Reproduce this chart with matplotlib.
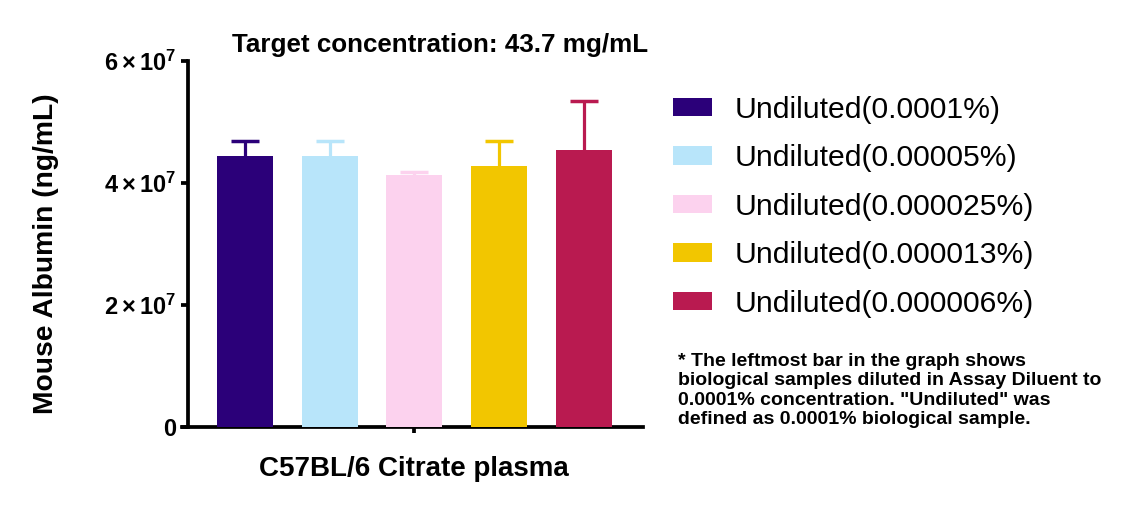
import numpy as np
import matplotlib
matplotlib.use('Agg')
import matplotlib.pyplot as plt

plt.rcParams['font.family'] = ['Liberation Sans', 'DejaVu Sans']
plt.rcParams['mathtext.fontset'] = 'custom'
plt.rcParams['mathtext.rm'] = 'Liberation Sans:bold'
plt.rcParams['mathtext.it'] = 'Liberation Sans:bold'
plt.rcParams['mathtext.bf'] = 'Liberation Sans:bold'

# ----------------------------------
# data
# ----------------------------------
groups = ['Undiluted(0.0001%)', 'Undiluted(0.00005%)', 'Undiluted(0.000025%)',
          'Undiluted(0.000013%)', 'Undiluted(0.000006%)']
means = [4.44e7, 4.44e7, 4.13e7, 4.28e7, 4.535e7]
upper_err = [0.25e7, 0.25e7, 0.05e7, 0.40e7, 0.81e7]
colors = ['#2B0079', '#B8E5FA', '#FCD2EE', '#F2C600', '#B91A50']
y_ticks = [0, 2e7, 4e7, 6e7]
y_tick_labels = ['0', r'$2\times10^{7}$', r'$4\times10^{7}$', r'$6\times10^{7}$']

# ----------------------------------
# figure
# ----------------------------------
fig = plt.figure(figsize=(11.29, 5.07), dpi=100)
ax = fig.add_axes([0.1609, 0.1584, 0.4083, 0.7219])

x = np.arange(len(means))
bars = ax.bar(x, means, width=0.66, color=colors, label=groups, zorder=3)

# upper-only error bars (SD), same colour as the bar
tops = np.array(means) + np.array(upper_err)
cap = 0.165
ax.vlines(x, means, tops, colors=colors, linewidth=2.3, zorder=2)
ax.hlines(tops, x - cap, x + cap, colors=colors, linewidth=2.5, zorder=2)

ax.set_xlim(-0.743, 4.689)
ax.set_ylim(0, 6e7)

for s in ['top', 'right']:
    ax.spines[s].set_visible(False)
ax.spines['left'].set_position(('data', -0.672))
ax.spines['left'].set_linewidth(2.7)
ax.spines['bottom'].set_linewidth(2.7)

ax.set_yticks(y_ticks)
ax.set_yticklabels(y_tick_labels)
ax.set_xticks([2])
ax.set_xticklabels([''])
ax.tick_params(axis='y', length=5, width=2.7, pad=3, labelsize=17)
ax.tick_params(axis='x', length=4.5, width=2.7)
for lab in ax.get_yticklabels():
    lab.set_fontweight('bold')

fig.text(0.0407, 0.5, 'Mouse Albumin (ng/mL)', rotation=90, ha='center', va='center',
         fontsize=20.3, fontweight='bold')
fig.text(0.3667, 0.075, 'C57BL/6 Citrate plasma', ha='center', va='center',
         fontsize=20, fontweight='bold')
fig.text(0.3902, 0.898, 'Target concentration: 43.7 mg/mL', ha='center', va='baseline',
         fontsize=18.7, fontweight='bold')

ax.legend(handles=bars.patches, labels=groups, loc='center left',
          bbox_to_anchor=(0.5964, 0.5925), bbox_transform=fig.transFigure,
          frameon=False, fontsize=21.7, handlelength=1.27, handleheight=0.58,
          handletextpad=0.78, labelspacing=0.68, borderpad=0, borderaxespad=0)

note = ('* The leftmost bar in the graph shows\n'
        'biological samples diluted in Assay Diluent to\n'
        '0.0001% concentration. "Undiluted" was\n'
        'defined as 0.0001% biological sample.')
fig.text(0.6008, 1 - 353 / 507, note, ha='left', va='top', fontsize=14,
         fontweight='bold', linespacing=1.19)

plt.savefig('out.png', dpi=100)
